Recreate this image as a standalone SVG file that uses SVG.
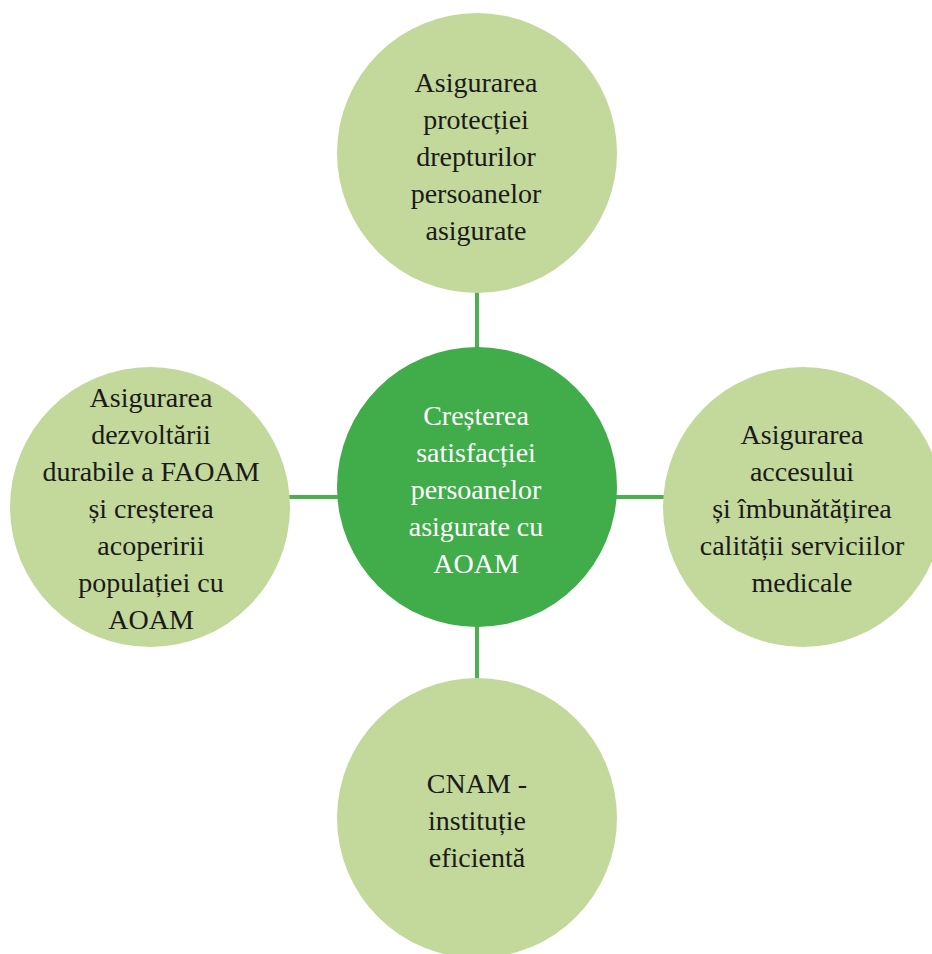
<svg xmlns="http://www.w3.org/2000/svg" width="932" height="954" viewBox="0 0 932 954">
<style>
.outer{fill:#c3d89b}
.core{fill:#41ad4a}
.conn{stroke:#4bb04f;stroke-width:4;fill:none}
.t{font-family:'Liberation Serif',Tinos,'Times New Roman',Times,'DejaVu Serif','Noto Serif',serif;font-size:28px;text-anchor:middle;fill:#1a1a1a}
.white{fill:#ffffff}
</style>
<rect width="932" height="954" fill="#ffffff"/>
<g id="connectors">
<line class="conn" x1="477" y1="292" x2="477" y2="349"/>
<line class="conn" x1="477" y1="625" x2="477" y2="680"/>
<line class="conn" x1="288" y1="497" x2="339" y2="497"/>
<line class="conn" x1="615" y1="497" x2="665" y2="497"/>
</g>
<g id="top">
<circle class="outer" cx="477" cy="153" r="140"/>
<g class="t" font-family="Liberation Serif, Tinos, Times New Roman, serif">
<text x="476" y="92">Asigurarea</text>
<text x="476" y="129">protecției</text>
<text x="476" y="166">drepturilor</text>
<text x="476" y="203">persoanelor</text>
<text x="476" y="240">asigurate</text>
</g>
</g>
<g id="left">
<circle class="outer" cx="150" cy="507" r="140"/>
<g class="t" font-family="Liberation Serif, Tinos, Times New Roman, serif">
<text x="151" y="407">Asigurarea</text>
<text x="151" y="444">dezvoltării</text>
<text x="151" y="481">durabile a FAOAM</text>
<text x="151" y="518">și creșterea</text>
<text x="151" y="555">acoperirii</text>
<text x="151" y="592">populației cu</text>
<text x="151" y="629">AOAM</text>
</g>
</g>
<g id="right">
<circle class="outer" cx="803" cy="507" r="140"/>
<g class="t" font-family="Liberation Serif, Tinos, Times New Roman, serif">
<text x="802" y="444">Asigurarea</text>
<text x="802" y="481">accesului</text>
<text x="802" y="518">și îmbunătățirea</text>
<text x="802" y="555">calității serviciilor</text>
<text x="802" y="592">medicale</text>
</g>
</g>
<g id="bottom">
<circle class="outer" cx="477" cy="818" r="140"/>
<g class="t" font-family="Liberation Serif, Tinos, Times New Roman, serif">
<text x="477" y="793">CNAM -</text>
<text x="477" y="830">instituție</text>
<text x="477" y="867">eficientă</text>
</g>
</g>
<g id="center">
<circle class="core" cx="477" cy="487" r="140"/>
<g class="t white" font-family="Liberation Serif, Tinos, Times New Roman, serif">
<text x="476" y="425">Creșterea</text>
<text x="476" y="462">satisfacției</text>
<text x="476" y="499">persoanelor</text>
<text x="476" y="536">asigurate cu</text>
<text x="476" y="573">AOAM</text>
</g>
</g>
</svg>
